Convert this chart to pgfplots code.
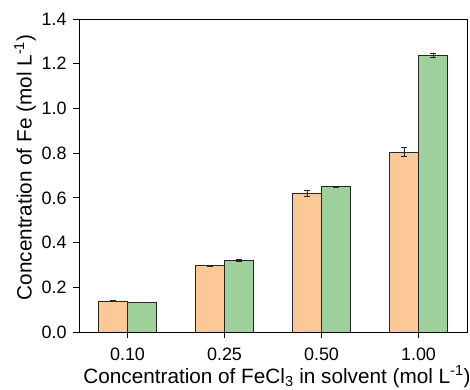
\documentclass[border=0pt]{standalone}
\usepackage{fontspec}
\setmainfont{Liberation Sans}
\usepackage{pgfplots}
\pgfplotsset{compat=1.18}
\definecolor{barorange}{HTML}{FBC896}
\definecolor{bargreen}{HTML}{9DD09A}
\definecolor{edge}{HTML}{262626}
\begin{document}
\begin{tikzpicture}
\begin{axis}[
  name=ax,
  scale only axis,
  width=388bp, height=313bp,
  xmin=-0.5, xmax=3.5,
  ymin=0, ymax=1.4,
  ytick={0,0.2,...,1.4},
  xtick={0,1,2,3},
  xticklabels={0.10,0.25,0.50,1.00},
  /pgf/number format/assume math mode=true,
  tick align=outside,
  tick pos=left,
  major tick length=6bp,
  tick style={line width=0.8pt, black},
  axis line style={line width=0.9pt},
  ticklabel style={font=\fontsize{18}{20}\selectfont},
  xticklabel style={yshift=-6.5bp},
  yticklabel style={xshift=-3bp, /pgf/number format/.cd, fixed, fixed zerofill, precision=1},
  label style={font=\fontsize{20.8}{23}\selectfont, inner sep=1bp},
  xlabel={Concentration of FeCl\textsubscript{3} in solvent (mol L\textsuperscript{-1})},
  ylabel={Concentration of Fe (mol L\textsuperscript{-1})},
  xlabel style={at={(axis description cs:0.5103,-0.1645)}, anchor=base},
  ylabel style={at={(axis description cs:-0.139,0.5256)}, anchor=center},
  ybar, bar width=0.3, bar shift=0pt,
  error bars/y dir=both, error bars/y explicit,
  error bars/error bar style={line width=0.6pt, edge},
  error bars/error mark options={rotate=90, mark size=3bp, line width=0.6pt, edge},
]
\addplot[fill=barorange, draw=edge, line width=0.8pt, bar shift=-0.15]
  coordinates {(0,0.139) +- (0,0.002) (1,0.297) +- (0,0.002) (2,0.622) +- (0,0.013) (3,0.804) +- (0,0.020)};
\addplot[fill=bargreen, draw=edge, line width=0.8pt, bar shift=0.15]
  coordinates {(0,0.133) +- (0,0.001) (1,0.322) +- (0,0.004) (2,0.651) +- (0,0.002) (3,1.237) +- (0,0.008)};
\end{axis}
% fixed page frame around the axis box and its labels
\pgfresetboundingbox
\path ([shift={(-79bp,-58bp)}]ax.south west) rectangle ([shift={(3bp,19bp)}]ax.north east);
\end{tikzpicture}
\end{document}
